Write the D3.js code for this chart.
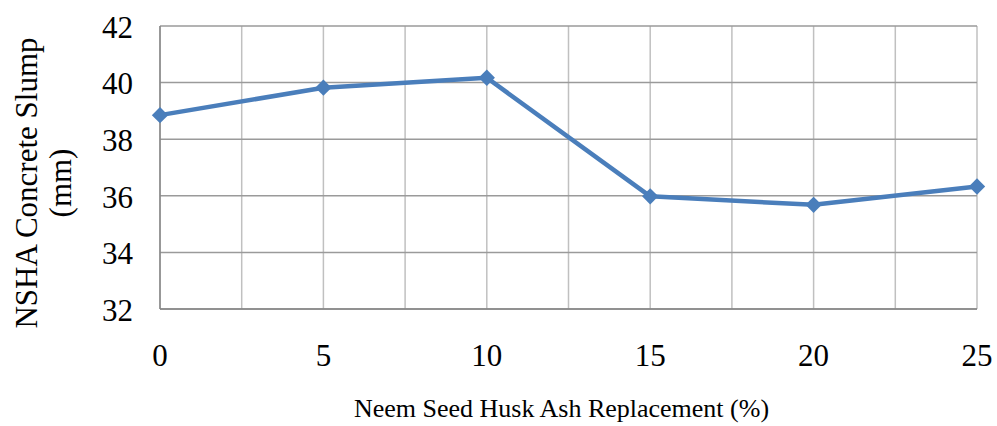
<!DOCTYPE html>
<html>
<head>
<meta charset="utf-8">
<script src="https://cdn.jsdelivr.net/npm/d3@7"></script>
<style>
  body { margin: 0; background: #fff; }
  svg text { font-family: "Times New Roman", "Liberation Serif", "DejaVu Serif", serif; fill: #000; }
</style>
</head>
<body>
<div id="graf"></div>
<script>
// data
const replacement = [0, 5, 10, 15, 20, 25];
const slump = [38.85, 39.82, 40.17, 35.98, 35.68, 36.33];
const yTicks = [32, 34, 36, 38, 40, 42];
const xTicks = [0, 5, 10, 15, 20, 25];
const xGrid = [0, 2.5, 5, 7.5, 10, 12.5, 15, 17.5, 20, 22.5, 25];

const serif = '"Times New Roman", "Liberation Serif", "DejaVu Serif", serif';

const ancho_total = 997;
const alto_total = 426;
const margins = { top: 26, left: 160, right: 20, bottom: 117 };
const ancho = ancho_total - margins.left - margins.right;
const alto = alto_total - margins.top - margins.bottom;

const svg = d3.select("#graf")
  .append("svg")
  .attr("width", ancho_total)
  .attr("height", alto_total)
  .attr("font-family", serif);

const g = svg.append("g")
  .attr("transform", `translate(${margins.left}, ${margins.top})`);

const x = d3.scaleLinear().domain([0, 25]).range([0, ancho]);
const y = d3.scaleLinear().domain([32, 42]).range([alto, 0]);

// vertical grid
g.selectAll(".vgrid")
  .data(xGrid)
  .join("line")
  .attr("class", "vgrid")
  .attr("x1", d => x(d)).attr("x2", d => x(d))
  .attr("y1", 0).attr("y2", alto)
  .attr("stroke", "#c0c0c0")
  .attr("stroke-width", 1.5);

// horizontal grid
g.selectAll(".hgrid")
  .data(yTicks)
  .join("line")
  .attr("class", "hgrid")
  .attr("x1", 0).attr("x2", ancho)
  .attr("y1", d => y(d)).attr("y2", d => y(d))
  .attr("stroke", "#9a9a9a")
  .attr("stroke-width", 1.5);

// axes lines
g.append("line")
  .attr("x1", 0).attr("x2", 0).attr("y1", 0).attr("y2", alto)
  .attr("stroke", "#868686").attr("stroke-width", 1.5);
g.append("line")
  .attr("x1", 0).attr("x2", ancho).attr("y1", alto).attr("y2", alto)
  .attr("stroke", "#868686").attr("stroke-width", 1.5);

// tick labels
g.selectAll(".ylab")
  .data(yTicks)
  .join("text")
  .attr("class", "ylab")
  .attr("x", -27)
  .attr("y", d => y(d) + 1)
  .attr("dy", "0.35em")
  .attr("text-anchor", "end")
  .style("font-family", serif)
  .style("font-size", "31px")
  .text(d => d);

g.selectAll(".xlab")
  .data(xTicks)
  .join("text")
  .attr("class", "xlab")
  .attr("x", d => x(d))
  .attr("y", alto + 46)
  .attr("dy", "0.35em")
  .attr("text-anchor", "middle")
  .style("font-family", serif)
  .style("font-size", "31px")
  .text(d => d);

// axis titles
g.append("text")
  .attr("x", ancho / 2 - 7)
  .attr("y", alto + 99)
  .attr("dy", "0.35em")
  .attr("text-anchor", "middle")
  .style("font-family", serif)
  .style("font-size", "26px")
  .text("Neem Seed Husk Ash Replacement (%)");

const yt = svg.append("text")
  .attr("transform", `translate(0, 183) rotate(-90)`)
  .attr("text-anchor", "middle")
  .style("font-family", serif)
  .style("font-size", "31px");
yt.append("tspan").attr("x", 0).attr("y", 37).text("NSHA Concrete Slump");
yt.append("tspan").attr("x", 0).attr("y", 71).text("(mm)");

// series
const pts = replacement.map((r, i) => [r, slump[i]]);

g.append("path")
  .datum(pts)
  .attr("fill", "none")
  .attr("stroke", "#4a7ebb")
  .attr("stroke-width", 4.5)
  .attr("stroke-linejoin", "round")
  .attr("d", d3.line().x(d => x(d[0])).y(d => y(d[1])));

g.selectAll(".marker")
  .data(pts)
  .join("path")
  .attr("class", "marker")
  .attr("transform", d => `translate(${x(d[0])}, ${y(d[1])})`)
  .attr("d", d3.symbol().type(d3.symbolDiamond2).size(170))
  .attr("fill", "#4a7ebb");
</script>
</body>
</html>
